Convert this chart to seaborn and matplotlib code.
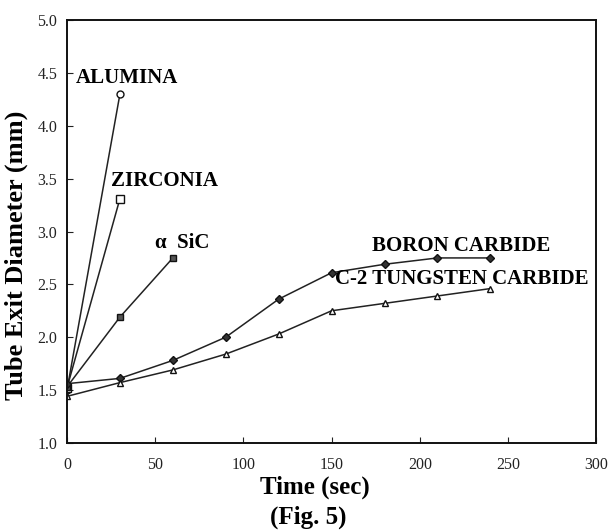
import matplotlib
matplotlib.use("Agg")
import matplotlib.pyplot as plt
import seaborn as sns
import pandas as pd

# Tube exit diameter (mm) over time (sec) for each die material
alumina_t = [0, 30]
alumina_d = [1.50, 4.30]

zirconia_t = [0, 30]
zirconia_d = [1.52, 3.31]

sic_t = [0, 30, 60]
sic_d = [1.53, 2.19, 2.75]

boron_t = [0, 30, 60, 90, 120, 150, 180, 210, 240]
boron_d = [1.56, 1.61, 1.78, 2.00, 2.36, 2.61, 2.69, 2.75, 2.75]

tungsten_t = [0, 30, 60, 90, 120, 150, 180, 210, 240]
tungsten_d = [1.44, 1.57, 1.69, 1.84, 2.03, 2.25, 2.32, 2.39, 2.46]

series_names = ["ALUMINA", "ZIRCONIA", "SiC", "BORON CARBIDE", "C-2 TUNGSTEN CARBIDE"]
series_t = [alumina_t, zirconia_t, sic_t, boron_t, tungsten_t]
series_d = [alumina_d, zirconia_d, sic_d, boron_d, tungsten_d]
series_markers = ["o", "s", "s", "D", "^"]
series_fill = ["white", "white", "#555555", "#333333", "white"]
series_msize = [5, 6, 5, 4, 5]

label_text = ["ALUMINA", "ZIRCONIA", "α  SiC", "BORON CARBIDE", "C-2 TUNGSTEN CARBIDE"]
label_x = [5, 25, 50, 173, 152]
label_y = [4.45, 3.48, 2.89, 2.86, 2.55]

x_ticks = [0, 50, 100, 150, 200, 250, 300]
y_ticks = [1.0, 1.5, 2.0, 2.5, 3.0, 3.5, 4.0, 4.5, 5.0]

rows = []
for name, ts, ds in zip(series_names, series_t, series_d):
    for t, d in zip(ts, ds):
        rows.append({"material": name, "time": t, "diameter": d})
df = pd.DataFrame(rows)

sns.set_theme(style="ticks")
plt.rcParams["font.family"] = ["Liberation Serif", "DejaVu Serif"]
plt.rcParams["xtick.direction"] = "in"
plt.rcParams["ytick.direction"] = "in"

fig = plt.figure(figsize=(6.09, 5.31), dpi=100)
ax = fig.add_axes([0.110, 0.166, 0.869, 0.796])

for name, mk, fc, ms in zip(series_names, series_markers, series_fill, series_msize):
    sns.lineplot(data=df[df["material"] == name], x="time", y="diameter",
                 ax=ax, color="#222222", linewidth=1.1, marker=mk,
                 markersize=ms, markerfacecolor=fc, markeredgecolor="#111111",
                 markeredgewidth=1.0, legend=False, estimator=None, sort=False)

for txt, lx, ly in zip(label_text, label_x, label_y):
    ax.text(lx, ly, txt, fontsize=15, fontweight="bold", va="center", ha="left",
            color="black")

ax.set_xlim(0, 300)
ax.set_ylim(1.0, 5.0)
ax.set_xticks(x_ticks)
ax.set_yticks(y_ticks)
ax.set_xticklabels([str(v) for v in x_ticks])
ax.set_yticklabels([f"{v:.1f}" for v in y_ticks])
ax.tick_params(axis="both", labelsize=11.5, length=4, width=0.8, colors="#222222",
               labelcolor="#222222")
ax.tick_params(axis="x", pad=10)
ax.tick_params(axis="y", pad=7)
for s in ax.spines.values():
    s.set_visible(True)
    s.set_linewidth(1.4)
    s.set_color("#111111")

ax.set_xlabel("Time (sec)", fontsize=18, fontweight="bold", va="center", color="black")
ax.xaxis.set_label_coords(0.469, -0.104)
ax.text(0.455, -0.175, "(Fig. 5)", transform=ax.transAxes, fontsize=18,
        fontweight="bold", ha="center", va="center", color="black")
ax.set_ylabel("Tube Exit Diameter (mm)", fontsize=19, fontweight="bold", va="center",
              color="black")
ax.yaxis.set_label_coords(-0.096, 0.444)

fig.savefig("out.png", dpi=100)
